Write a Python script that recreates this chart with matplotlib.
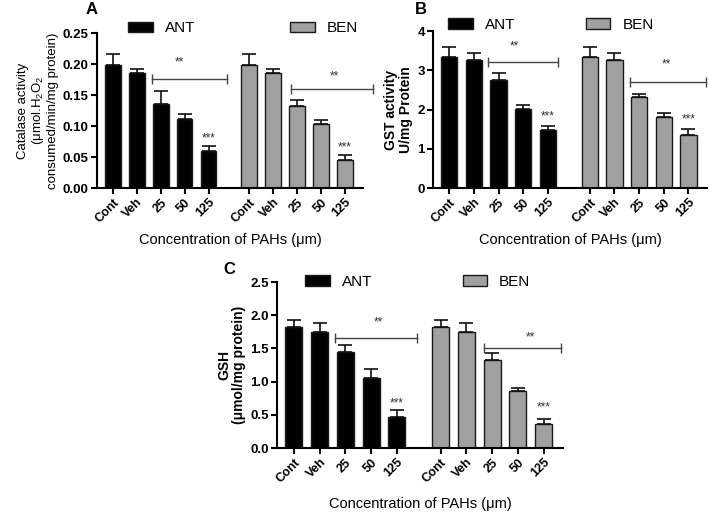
import matplotlib
matplotlib.use("Agg")
import matplotlib.pyplot as plt
from matplotlib.patches import Patch
import numpy as np

plt.rcParams['font.family'] = ['Liberation Sans', 'DejaVu Sans']
plt.rcParams['mathtext.default'] = 'regular'

categories = ["Cont", "Veh", "25", "50", "125"]
series = ["ANT", "BEN"]

# Panel A: Catalase
cat_ant = [0.198, 0.186, 0.136, 0.112, 0.059]
cat_ant_err = [0.018, 0.006, 0.020, 0.007, 0.008]
cat_ben = [0.198, 0.186, 0.133, 0.103, 0.046]
cat_ben_err = [0.018, 0.006, 0.009, 0.006, 0.007]

# Panel B: GST
gst_ant = [3.33, 3.27, 2.76, 2.02, 1.49]
gst_ant_err = [0.27, 0.17, 0.17, 0.09, 0.09]
gst_ben = [3.33, 3.27, 2.31, 1.80, 1.34]
gst_ben_err = [0.27, 0.17, 0.09, 0.11, 0.17]

# Panel C: GSH
gsh_ant = [1.83, 1.75, 1.44, 1.05, 0.46]
gsh_ant_err = [0.10, 0.13, 0.11, 0.14, 0.12]
gsh_ben = [1.83, 1.75, 1.33, 0.86, 0.36]
gsh_ben_err = [0.10, 0.13, 0.10, 0.05, 0.08]

ANT_COLOR = "#000000"
BEN_COLOR = "#a0a0a0"
EDGE = "#1a1a1a"

fig = plt.figure(figsize=(7.09, 5.13), dpi=100)

pos_ant = np.arange(5)
pos_ben = np.arange(5) + 5.7
width = 0.66


def panel(rect, ant, ant_err, ben, ben_err, ylim, yticks, yticklabels, ylabel,
          ylabel_bold, brackets, stars2, star3_y, leg_x, leg_y, colsp, xpad):
    ax = fig.add_axes(rect)
    ax.bar(pos_ant, ant, width, color=ANT_COLOR, edgecolor=EDGE, linewidth=1.0,
           yerr=[np.zeros(5), ant_err], capsize=5,
           error_kw=dict(elinewidth=1.2, capthick=1.2, ecolor="#111111"))
    ax.bar(pos_ben, ben, width, color=BEN_COLOR, edgecolor=EDGE, linewidth=1.0,
           yerr=[np.zeros(5), ben_err], capsize=5,
           error_kw=dict(elinewidth=1.2, capthick=1.2, ecolor="#111111"))
    ax.set_xlim(-0.65, 10.45)
    ax.set_ylim(*ylim)
    ax.set_yticks(yticks)
    ax.set_yticklabels(yticklabels, fontweight='bold', fontsize=9.5)
    ax.set_xticks(list(pos_ant) + list(pos_ben))
    ax.set_xticklabels(categories + categories, rotation=45, ha='right',
                       rotation_mode='anchor', fontweight='bold', fontsize=9)
    for s in ['top', 'right']:
        ax.spines[s].set_visible(False)
    for s in ['left', 'bottom']:
        ax.spines[s].set_linewidth(1.5)
    ax.tick_params(axis='both', width=1.5, length=4, pad=2)
    ax.set_ylabel(ylabel, fontsize=10 if ylabel_bold else 9.5,
                  fontweight='bold' if ylabel_bold else 'normal',
                  linespacing=1.1, labelpad=3)
    ax.set_xlabel("Concentration of PAHs (μm)", fontsize=10.5, labelpad=xpad)
    for (x0, x1, y) in brackets:
        ax.plot([x0, x1], [y, y], color="#444444", lw=1.0, clip_on=False)
        ax.plot([x0, x1], [y, y], linestyle='none', marker='|', markersize=7,
                markeredgewidth=1.0, color="#444444", clip_on=False)
    for (x, y) in stars2:
        ax.text(x, y, "**", ha='center', va='center', fontsize=8.5, color="#333333")
    ax.text(pos_ant[4], star3_y[0], "***", ha='center', va='center', fontsize=8.5,
            color="#333333")
    ax.text(pos_ben[4], star3_y[1], "***", ha='center', va='center', fontsize=8.5,
            color="#333333")
    handles = [Patch(facecolor=ANT_COLOR, edgecolor=EDGE),
               Patch(facecolor=BEN_COLOR, edgecolor=EDGE)]
    ax.legend(handles, series, ncol=2, frameon=False, loc='center left',
              bbox_to_anchor=(leg_x, leg_y), borderpad=0, borderaxespad=0,
              handlelength=1.6, handleheight=0.7, handletextpad=0.8,
              columnspacing=colsp, fontsize=11)
    return ax


axA = panel([0.137, 0.6335, 0.375, 0.302], cat_ant, cat_ant_err, cat_ben, cat_ben_err,
            (0, 0.25), [0, 0.05, 0.10, 0.15, 0.20, 0.25],
            ["0.00", "0.05", "0.10", "0.15", "0.20", "0.25"],
            "Catalase activity\n(μmol.H$_2$O$_2$\nconsumed/min/mg protein)", False,
            [(1.64, 4.79, 0.176), (7.44, 10.88, 0.160)],
            [(2.8, 0.203), (9.24, 0.180)], (0.080, 0.066), 0.117, 1.03, 6.2, 6)

axB = panel([0.611, 0.6335, 0.386, 0.306], gst_ant, gst_ant_err, gst_ben, gst_ben_err,
            (0, 4), [0, 1, 2, 3, 4], ["0", "1", "2", "3", "4"],
            "GST activity\nU/mg Protein", True,
            [(1.58, 4.4, 3.2), (7.35, 10.42, 2.70)],
            [(2.63, 3.60), (8.8, 3.14)], (1.82, 1.76), 0.055, 1.04, 4.6, 6)

axC = panel([0.391, 0.1267, 0.403, 0.3233], gsh_ant, gsh_ant_err, gsh_ben, gsh_ben_err,
            (0, 2.5), [0, 0.5, 1.0, 1.5, 2.0, 2.5],
            ["0.0", "0.5", "1.0", "1.5", "2.0", "2.5"],
            "GSH\n(μmol/mg protein)", True,
            [(1.58, 4.77, 1.66), (7.38, 10.38, 1.51)],
            [(3.27, 1.90), (9.2, 1.67)], (0.67, 0.61), 0.098, 1.0, 5.9, 9)

fig.text(86 / 709, 1 - 10 / 513, "A", fontsize=12, fontweight='bold', ha='left', va='center')
fig.text(415 / 709, 1 - 10 / 513, "B", fontsize=12, fontweight='bold', ha='left', va='center')
fig.text(223 / 709, 1 - 270 / 513, "C", fontsize=12, fontweight='bold', ha='left', va='center')

fig.savefig("out.png", dpi=100)
